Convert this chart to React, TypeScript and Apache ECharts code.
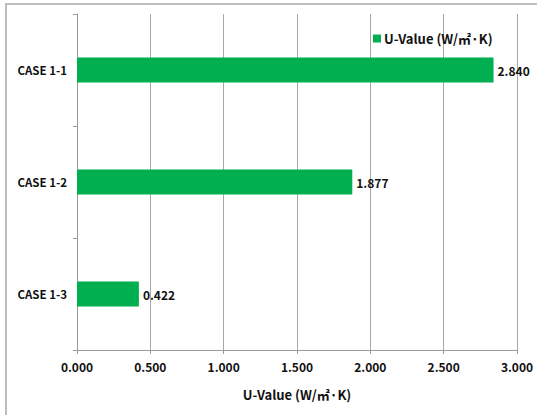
import React, { useEffect, useRef } from "react";
import * as echarts from "echarts";

const categories = ["CASE 1-1", "CASE 1-2", "CASE 1-3"];
const uValues = [2.84, 1.877, 0.422];
const seriesName = "U-Value (W/㎡·K)";
const axisName = "U-Value (W/㎡·K)";

const FONT = "'Noto Sans CJK KR', 'Noto Sans', sans-serif";

export default function App() {
  const ref = useRef<HTMLDivElement>(null);
  useEffect(() => {
    if (!ref.current) return;
    const chart = echarts.init(ref.current, undefined, { renderer: "svg" });
    chart.setOption({
      animation: false,
      backgroundColor: "#ffffff",
      textStyle: { fontFamily: FONT },
      graphic: [
        {
          type: "polyline",
          shape: { points: [[6, 415], [6, 4], [537, 4]] },
          style: { stroke: "#bdbdbd", lineWidth: 2, fill: "none" },
        },
      ],
      legend: {
        left: 368,
        top: 27,
        itemWidth: 8,
        itemHeight: 8,
        icon: "rect",
        itemGap: 4,
        textStyle: { fontFamily: FONT, fontSize: 13, fontWeight: "bold", color: "#111", padding: [0, 0, 0, -2] },
        data: [seriesName],
      },
      grid: { left: 77, right: 20, top: 14, bottom: 65, containLabel: false },
      xAxis: {
        type: "value",
        min: 0,
        max: 3,
        interval: 0.5,
        name: axisName,
        nameLocation: "middle",
        nameGap: 38,
        nameTextStyle: { fontFamily: FONT, fontSize: 13, fontWeight: "bold", color: "#111" },
        axisLine: { show: true, lineStyle: { color: "#9a9a9a", width: 1 } },
        axisTick: { show: true, length: 4, lineStyle: { color: "#9a9a9a" } },
        splitLine: { show: true, lineStyle: { color: "#a8a8a8", width: 1 } },
        axisLabel: {
          formatter: (v: number) => v.toFixed(3),
          fontFamily: FONT,
          fontSize: 12,
          fontWeight: "bold",
          color: "#111",
          margin: 10,
        },
      },
      yAxis: {
        type: "category",
        data: categories,
        inverse: true,
        axisLine: { show: true, lineStyle: { color: "#9a9a9a", width: 1 } },
        axisTick: { show: true, length: 4, lineStyle: { color: "#9a9a9a" } },
        axisLabel: {
          fontFamily: FONT,
          fontSize: 11.5,
          fontWeight: "bold",
          color: "#111",
          margin: 10,
        },
      },
      series: [
        {
          name: seriesName,
          type: "bar",
          data: uValues,
          barWidth: 25,
          itemStyle: { color: "#00b050" },
          label: {
            show: true,
            position: "right",
            distance: 4,
            formatter: (p: any) => Number(p.value).toFixed(3),
            fontFamily: FONT,
            fontSize: 12,
            fontWeight: "bold",
            color: "#111",
          },
        },
      ],
    });
    return () => chart.dispose();
  }, []);
  return <div ref={ref} style={{ width: 537, height: 415, position: "absolute", left: 0, top: 0 }} />;
}
